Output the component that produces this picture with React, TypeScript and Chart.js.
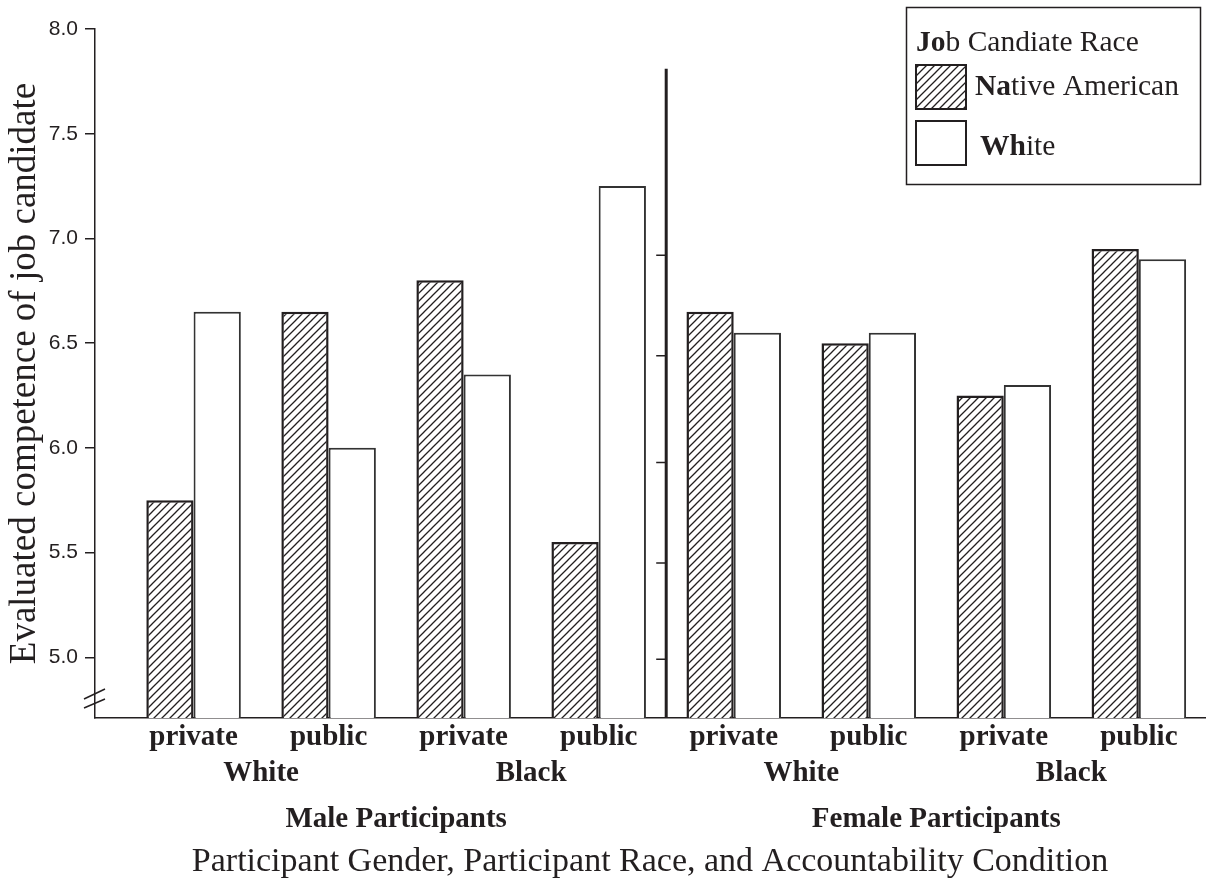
import React, { useEffect, useRef } from 'react';
import { Chart, registerables } from 'chart.js';

Chart.register(...registerables);

// ---- data ----
const conditions = ['private', 'public', 'private', 'public', 'private', 'public', 'private', 'public'];
const participantRace = ['White', 'Black', 'White', 'Black'];
const participantGender = ['Male Participants', 'Female Participants'];
const nativeAmericanScores = [5.75, 6.65, 6.8, 5.55, 6.65, 6.5, 6.25, 6.95];
const whiteScores = [6.65, 6.0, 6.35, 7.25, 6.55, 6.55, 6.3, 6.9];
const yTickValues = [5.0, 5.5, 6.0, 6.5, 7.0, 7.5, 8.0];
const dividerTickValues = [6.92, 6.44, 5.93, 5.45, 4.99];
const seriesNames = ['Native American', 'White'];
const legendTitle = 'Job Candiate Race';
const yTitle = 'Evaluated competence of job candidate';
const xTitle = 'Participant Gender, Participant Race, and Accountability Condition';

const SERIF = '"Liberation Serif", "Times New Roman", serif';
const SANS = '"Liberation Sans", Arial, sans-serif';
const INK = '#231f20';

function makeHatch(ctx: CanvasRenderingContext2D): CanvasPattern {
  const c = document.createElement('canvas');
  c.width = 8;
  c.height = 8;
  const g = c.getContext('2d')!;
  g.fillStyle = '#ffffff';
  g.fillRect(0, 0, 8, 8);
  g.strokeStyle = INK;
  g.lineWidth = 1.3;
  g.beginPath();
  g.moveTo(-1, 9);
  g.lineTo(9, -1);
  g.moveTo(-1, 1);
  g.lineTo(1, -1);
  g.moveTo(7, 9);
  g.lineTo(9, 7);
  g.stroke();
  return ctx.createPattern(c, 'repeat')!;
}

function drawRuns(ctx: CanvasRenderingContext2D, text: string, boldCount: number, x: number, y: number, size: number) {
  const runs: [string, boolean][] = [
    [text.slice(0, boldCount), true],
    [text.slice(boldCount), false],
  ];
  let cx = x;
  for (const [t, b] of runs) {
    ctx.font = `${b ? 'bold ' : ''}${size}px ${SERIF}`;
    ctx.fillText(t, cx, y);
    cx += ctx.measureText(t).width;
  }
}

export default function App() {
  const ref = useRef<HTMLCanvasElement | null>(null);

  useEffect(() => {
    const canvas = ref.current!;
    const ctx = canvas.getContext('2d')!;
    const hatch = makeHatch(ctx);

    const overlay = {
      id: 'overlay',
      afterDraw(chart: any) {
        const { ctx, chartArea, scales } = chart;
        const x = scales.x;
        const y = scales.y;
        ctx.save();

        // axis break marks
        ctx.strokeStyle = INK;
        ctx.lineWidth = 1.5;
        const l = chartArea.left;
        const b = chartArea.bottom;
        ctx.beginPath();
        ctx.moveTo(l - 11, b - 10);
        ctx.lineTo(l + 10, b - 19);
        ctx.moveTo(l - 11, b - 19);
        ctx.lineTo(l + 10, b - 29);
        ctx.stroke();

        // divider between male and female participants
        const dx = x.getPixelForValue(3.5);
        ctx.lineWidth = 3;
        ctx.beginPath();
        ctx.moveTo(dx, y.getPixelForValue(7.81));
        ctx.lineTo(dx, chartArea.bottom);
        ctx.stroke();
        ctx.lineWidth = 1.5;
        ctx.beginPath();
        for (const v of dividerTickValues) {
          const py = y.getPixelForValue(v);
          ctx.moveTo(dx - 10, py);
          ctx.lineTo(dx, py);
        }
        ctx.stroke();

        // group labels
        ctx.fillStyle = INK;
        ctx.textAlign = 'center';
        ctx.textBaseline = 'middle';
        ctx.font = `bold 29px ${SERIF}`;
        participantRace.forEach((r, i) => {
          ctx.fillText(r, x.getPixelForValue(2 * i + 0.5), 774);
        });
        participantGender.forEach((g, i) => {
          ctx.fillText(g, x.getPixelForValue(4 * i + 1.5), 820);
        });

        // legend
        ctx.fillStyle = '#ffffff';
        ctx.fillRect(906, 7, 294, 177);
        ctx.strokeStyle = INK;
        ctx.lineWidth = 1.5;
        ctx.strokeRect(906.5, 7.5, 294, 177);
        ctx.textAlign = 'left';
        ctx.textBaseline = 'alphabetic';
        ctx.fillStyle = INK;
        drawRuns(ctx, legendTitle, 2, 916, 51, 29.5);
        ctx.fillStyle = hatch;
        ctx.fillRect(916, 65, 50, 44);
        ctx.lineWidth = 2;
        ctx.strokeRect(916, 65, 50, 44);
        ctx.fillStyle = INK;
        drawRuns(ctx, seriesNames[0], 2, 975, 95, 29.5);
        ctx.fillStyle = '#ffffff';
        ctx.fillRect(916, 121, 50, 44);
        ctx.strokeRect(916, 121, 50, 44);
        ctx.fillStyle = INK;
        drawRuns(ctx, seriesNames[1], 2, 980, 155, 29.5);

        ctx.restore();
      },
    };

    const chart = new Chart(ctx, {
      type: 'bar',
      data: {
        datasets: [
          {
            label: seriesNames[0],
            data: nativeAmericanScores.map((v, i) => ({ x: i, y: v })),
            backgroundColor: hatch,
            borderColor: INK,
            borderWidth: 2.5,
            categoryPercentage: 0.7,
            barPercentage: 1.0,
          },
          {
            label: seriesNames[1],
            data: whiteScores.map((v, i) => ({ x: i, y: v })),
            backgroundColor: '#ffffff',
            borderColor: '#333333',
            borderWidth: 2,
            categoryPercentage: 0.7,
            barPercentage: 1.0,
          },
        ],
      },
      options: {
        responsive: false,
        animation: false,
        events: [],
        layout: { padding: { top: 29, right: 5, left: 0, bottom: 0 } },
        plugins: {
          legend: { display: false },
          tooltip: { enabled: false },
        },
        scales: {
          x: {
            type: 'linear',
            offset: false,
            min: -0.73,
            max: 7.49,
            afterBuildTicks: (scale: any) => {
              scale.ticks = conditions.map((_, i) => ({ value: i }));
            },
            afterFit: (scale: any) => {
              scale.height = 164;
            },
            grid: { display: false, drawTicks: false, offset: false },
            border: { display: true, color: INK, width: 1.5 },
            ticks: {
              autoSkip: false,
              maxRotation: 0,
              padding: 2,
              color: INK,
              font: { family: SERIF, size: 29, weight: 'bold' },
              callback: (v: any) => conditions[Math.round(Number(v))] ?? '',
            },
            title: {
              display: true,
              text: xTitle,
              color: INK,
              font: { family: SERIF, size: 34, weight: 'normal', lineHeight: 1.2 },
              padding: { top: 0, bottom: 0 },
            },
          },
          y: {
            type: 'linear',
            min: 4.71,
            max: 8.0,
            afterBuildTicks: (scale: any) => {
              scale.ticks = yTickValues.map((v) => ({ value: v }));
            },
            afterFit: (scale: any) => {
              scale.width = 95;
            },
            grid: {
              display: true,
              drawOnChartArea: false,
              drawTicks: true,
              tickLength: 10,
              color: INK,
              lineWidth: 1.5,
            },
            border: { display: true, color: INK, width: 1.5 },
            ticks: {
              padding: 7,
              color: INK,
              font: { family: SANS, size: 21 },
              callback: (v: any) => Number(v).toFixed(1),
            },
            title: {
              display: true,
              text: yTitle,
              color: INK,
              font: { family: SERIF, size: 37, weight: 'normal', lineHeight: 1.2 },
              padding: { top: 3, bottom: 0 },
            },
          },
        },
      },
      plugins: [overlay],
    } as any);

    return () => chart.destroy();
  }, []);

  return (
    <div style={{ position: 'absolute', left: 0, top: 0, width: 1210, height: 882, background: '#fff' }}>
      <canvas ref={ref} width={1210} height={882} style={{ display: 'block', width: 1210, height: 882 }} />
    </div>
  );
}
